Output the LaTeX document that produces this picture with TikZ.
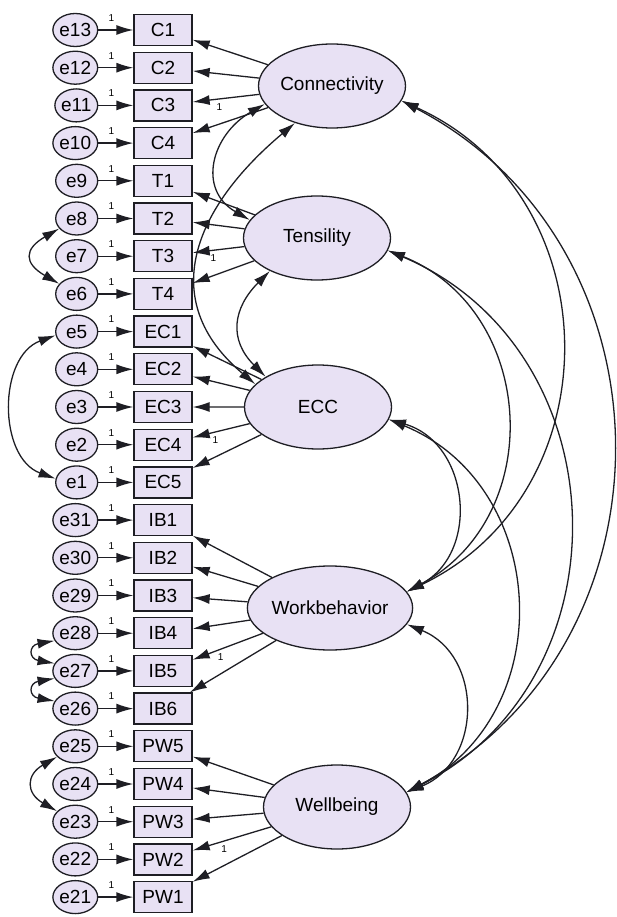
\documentclass[tikz,border=0pt]{standalone}
\usepackage{fontspec}
\setmainfont{Liberation Sans}
\usetikzlibrary{arrows.meta,positioning,shapes.geometric}

\definecolor{lavender}{RGB}{232,225,244}
\definecolor{edgegray}{RGB}{30,30,36}

\begin{document}
\begin{tikzpicture}[
  x=1pt, y=-1pt,
  indicator/.style={draw=edgegray, fill=lavender, line width=1.3pt,
    minimum width=58pt, minimum height=31pt, inner sep=0pt,
    font=\fontsize{19}{20}\selectfont},
  residual/.style={ellipse, draw=edgegray, fill=lavender, line width=1.3pt,
    minimum width=42pt, minimum height=33pt, inner sep=0pt,
    font=\fontsize{19}{20}\selectfont},
  latent/.style={ellipse, draw=edgegray, fill=lavender, line width=1.3pt,
    minimum width=147pt, minimum height=84pt, inner sep=0pt,
    font=\fontsize{19}{20}\selectfont},
  arrow/.style={-{Latex[length=17pt,width=10pt]}, line width=1.3pt, draw=edgegray},
  covar/.style={{Latex[length=17pt,width=10pt]}-{Latex[length=17pt,width=10pt]},
    line width=1.3pt, draw=edgegray},
  fixed/.style={font=\fontsize{10}{10}\selectfont, inner sep=1pt}
]
\useasboundingbox (0,0) rectangle (616,917);

% observed indicators with their error terms
\foreach \ind/\res [count=\i from 0] in {C1/e13,C2/e12,C3/e11,C4/e10,
    T1/e9,T2/e8,T3/e7,T4/e6,EC1/e5,EC2/e4,EC3/e3,EC4/e2,EC5/e1,
    IB1/e31,IB2/e30,IB3/e29,IB4/e28,IB5/e27,IB6/e26,
    PW5/e25,PW4/e24,PW3/e23,PW2/e22,PW1/e21}{
  \node[indicator] (\ind) at (163,30+37.7*\i) {\ind};
  \node[residual, left=35pt of \ind] (\res) {\res};
  \draw[arrow] (\res) -- node[fixed, pos=0.37, above=7pt] {1} (\ind);
}

% latent factors
\node[latent] (Conn) at (332,86) {Connectivity};
\node[latent] (Tens) at (317,238) {Tensility};
\node[latent] (ECC) at (318,407) {ECC};
\node[latent] (Work) at (330,608) {Workbehavior};
\node[latent] (Well) at (337,807) {Wellbeing};

% loadings
\foreach \ind in {C1,C2,C4} \draw[arrow] (Conn) -- (\ind);
\draw[arrow] (Conn) -- node[fixed, pos=0.6, below=3pt] {1} (C3);
\foreach \ind in {T1,T2,T4} \draw[arrow] (Tens) -- (\ind);
\draw[arrow] (Tens) -- node[fixed, pos=0.6, below=3pt] {1} (T3);
\foreach \ind in {EC1,EC2,EC3,EC5} \draw[arrow] (ECC) -- (\ind);
\draw[arrow] (ECC) -- node[fixed, pos=0.6, below=3pt] {1} (EC4);
\foreach \ind in {IB1,IB2,IB3,IB4,IB6} \draw[arrow] (Work) -- (\ind);
\draw[arrow] (Work) -- node[fixed, pos=0.6, below=3pt] {1} (IB5);
\foreach \ind in {PW5,PW4,PW3,PW1} \draw[arrow] (Well) -- (\ind);
\draw[arrow] (Well) -- node[fixed, pos=0.6, below=3pt] {1} (PW2);

% error covariances
\draw[covar] (e8.210) to[out=210, in=150, looseness=1.9] (e6.150);
\draw[covar] (e5.190) to[out=200, in=160, looseness=1.1] (e1.170);
\draw[covar] (e28.200) to[out=190, in=170, looseness=3] (e27.160);
\draw[covar] (e27.200) to[out=190, in=170, looseness=3] (e26.160);
\draw[covar] (e25.210) to[out=210, in=150, looseness=1.7] (e23.150);

% factor covariances
\draw[covar] (Conn.195) to[out=210, in=150, looseness=1.34] (Tens.165);
\draw[covar] (Conn.225) to[out=220, in=140, looseness=1.27] (ECC.160);
\draw[covar] (Tens.215) to[out=225, in=135, looseness=1.27] (ECC.150);
\draw[covar] (Conn.-12) to[bend left=62, looseness=1.16] (Well.12);
\draw[covar] (Conn.-12) to[bend left=65, looseness=1.2] (Work.12);
\draw[covar] (Tens.-10) to[bend left=65, looseness=1.19] (Well.12);
\draw[covar] (Tens.-10) to[bend left=65, looseness=1.2] (Work.12);
\draw[covar] (ECC.-10) to[bend left=65, looseness=1.19] (Well.12);
\draw[covar] (ECC.-10) to[bend left=68, looseness=1.24] (Work.12);
\draw[covar] (Work.-12) to[bend left=68, looseness=1.25] (Well.12);
\end{tikzpicture}
\end{document}
